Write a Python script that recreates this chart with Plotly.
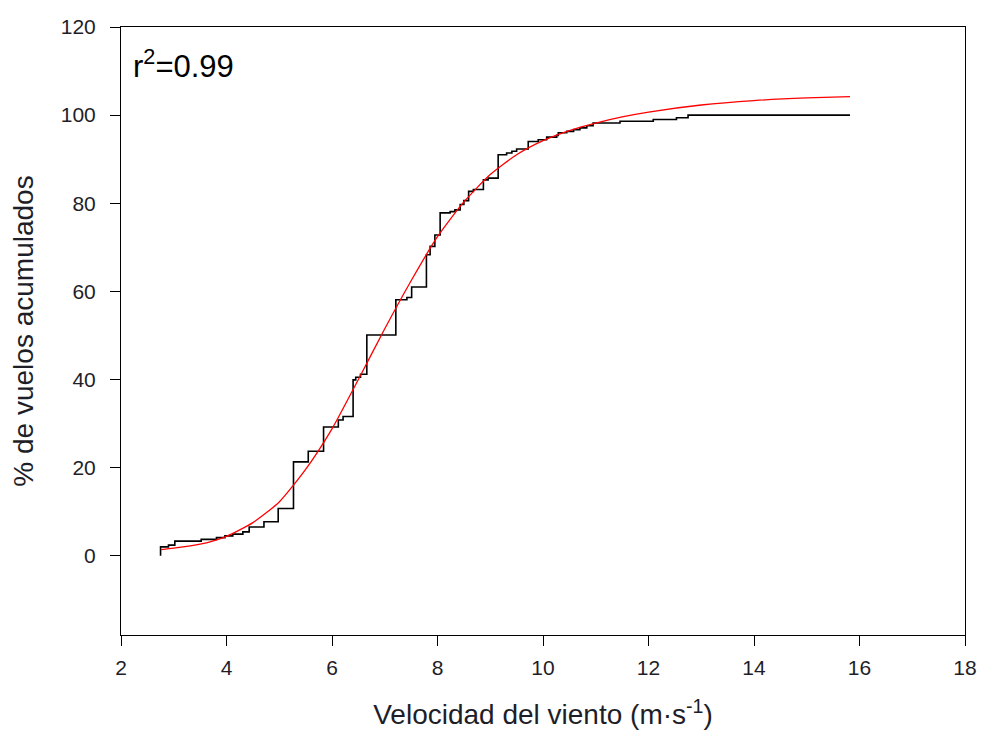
import plotly.graph_objects as go

# Empirical cumulative distribution of flights vs wind speed (step values)
speed_steps = [2.75, 2.75, 2.90, 3.02, 3.52, 3.81, 3.97, 4.12, 4.31, 4.43, 4.71, 4.98,
               5.27, 5.55, 5.84, 6.12, 6.21, 6.40, 6.45, 6.54, 6.66, 7.21, 7.42, 7.51,
               7.79, 7.86, 7.95, 8.05, 8.24, 8.33, 8.43, 8.50, 8.59, 8.68, 8.87, 8.96,
               9.15, 9.31, 9.41, 9.50, 9.72, 9.91, 10.07, 10.26, 10.29, 10.45, 10.58,
               10.70, 10.83, 10.95, 11.46, 12.09, 12.53, 12.75, 15.82]
cum_pct = [0.0, 2.0, 2.4, 3.3, 3.7, 4.1, 4.5, 4.9, 5.4, 6.5, 7.7, 10.7,
           21.3, 23.7, 29.2, 30.8, 31.6, 39.9, 40.5, 41.2, 50.1, 58.1, 58.6, 61.0,
           68.3, 70.2, 72.8, 77.8, 78.1, 78.5, 79.7, 80.6, 82.7, 83.1, 85.3, 85.7,
           91.0, 91.4, 91.8, 92.3, 94.0, 94.4, 95.0, 95.4, 96.0, 96.3, 96.7,
           97.1, 97.6, 98.2, 98.6, 99.0, 99.4, 100.0, 100.0]

# Fitted sigmoid curve, sampled values
fit_speed = [2.76, 3.0, 3.5, 4.0, 4.5, 5.0, 5.5, 6.0, 6.5, 7.0, 7.5, 8.0, 8.5,
             9.0, 9.5, 10.0, 10.5, 11.0, 11.5, 12.0, 13.0, 14.0, 15.0, 15.82]
fit_pct = [1.4, 1.7, 2.6, 4.4, 7.5, 12.2, 19.6, 28.8, 40.0, 51.5, 62.4, 72.4, 80.3,
           86.5, 91.0, 94.2, 96.5, 98.2, 99.6, 100.7, 102.3, 103.3, 103.9, 104.2]

x_ticks = [2, 4, 6, 8, 10, 12, 14, 16, 18]
y_ticks = [0, 20, 40, 60, 80, 100, 120]

FONT = "Liberation Sans, Arial, sans-serif"
TXT = "#1e1e28"

fig = go.Figure()
fig.add_trace(go.Scatter(x=speed_steps, y=cum_pct, mode="lines",
                         line=dict(color="black", width=1.6, shape="hv"),
                         showlegend=False))
fig.add_trace(go.Scatter(x=fit_speed, y=fit_pct, mode="lines",
                         line=dict(color="#ff0000", width=1.3, shape="spline", smoothing=0.6),
                         showlegend=False))

fig.add_annotation(text="r<sup>2</sup>=0.99", xref="paper", yref="paper",
                   x=0.012, y=0.975, xanchor="left", yanchor="top", showarrow=False,
                   font=dict(family=FONT, size=31, color="black"))

axis_common = dict(showline=True, linecolor="black", linewidth=1, mirror=True,
                   ticks="outside", ticklen=10, tickwidth=1, tickcolor="black",
                   showgrid=False, zeroline=False, automargin=False,
                   tickfont=dict(family=FONT, size=21, color=TXT))

fig.update_xaxes(range=[2, 18], tickvals=x_ticks, ticklabelstandoff=4,
                 title=dict(text="Velocidad del viento (m·s<sup>-1</sup>)",
                            font=dict(family=FONT, size=28, color=TXT), standoff=26),
                 **axis_common)
fig.update_yaxes(range=[-18, 120], tickvals=y_ticks, ticklabelstandoff=10,
                 title=dict(text="% de vuelos acumulados",
                            font=dict(family=FONT, size=28, color=TXT), standoff=18),
                 **axis_common)

fig.update_layout(width=981, height=738, paper_bgcolor="white", plot_bgcolor="white",
                  margin=dict(l=121, r=16, t=27, b=103))

fig.write_html("out.html")
